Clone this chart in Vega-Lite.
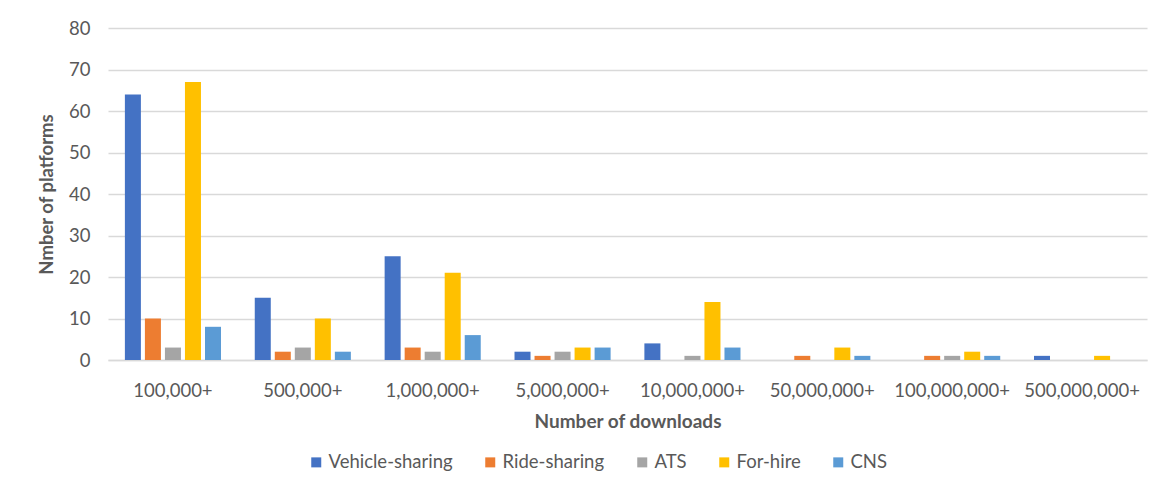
{
  "$schema": "https://vega.github.io/schema/vega-lite/v6.json",
  "width": 1039,
  "height": 332,
  "autosize": "none",
  "padding": {"left": 108, "top": 28, "right": 15, "bottom": 141},
  "background": "white",
  "config": {
    "font": "Lato",
    "view": {"stroke": null}
  },
  "data": {
    "values": [
      {"downloads": "100,000+", "type": "Vehicle-sharing", "count": 64},
      {"downloads": "100,000+", "type": "Ride-sharing", "count": 10},
      {"downloads": "100,000+", "type": "ATS", "count": 3},
      {"downloads": "100,000+", "type": "For-hire", "count": 67},
      {"downloads": "100,000+", "type": "CNS", "count": 8},
      {"downloads": "500,000+", "type": "Vehicle-sharing", "count": 15},
      {"downloads": "500,000+", "type": "Ride-sharing", "count": 2},
      {"downloads": "500,000+", "type": "ATS", "count": 3},
      {"downloads": "500,000+", "type": "For-hire", "count": 10},
      {"downloads": "500,000+", "type": "CNS", "count": 2},
      {"downloads": "1,000,000+", "type": "Vehicle-sharing", "count": 25},
      {"downloads": "1,000,000+", "type": "Ride-sharing", "count": 3},
      {"downloads": "1,000,000+", "type": "ATS", "count": 2},
      {"downloads": "1,000,000+", "type": "For-hire", "count": 21},
      {"downloads": "1,000,000+", "type": "CNS", "count": 6},
      {"downloads": "5,000,000+", "type": "Vehicle-sharing", "count": 2},
      {"downloads": "5,000,000+", "type": "Ride-sharing", "count": 1},
      {"downloads": "5,000,000+", "type": "ATS", "count": 2},
      {"downloads": "5,000,000+", "type": "For-hire", "count": 3},
      {"downloads": "5,000,000+", "type": "CNS", "count": 3},
      {"downloads": "10,000,000+", "type": "Vehicle-sharing", "count": 4},
      {"downloads": "10,000,000+", "type": "Ride-sharing", "count": 0},
      {"downloads": "10,000,000+", "type": "ATS", "count": 1},
      {"downloads": "10,000,000+", "type": "For-hire", "count": 14},
      {"downloads": "10,000,000+", "type": "CNS", "count": 3},
      {"downloads": "50,000,000+", "type": "Vehicle-sharing", "count": 0},
      {"downloads": "50,000,000+", "type": "Ride-sharing", "count": 1},
      {"downloads": "50,000,000+", "type": "ATS", "count": 0},
      {"downloads": "50,000,000+", "type": "For-hire", "count": 3},
      {"downloads": "50,000,000+", "type": "CNS", "count": 1},
      {"downloads": "100,000,000+", "type": "Vehicle-sharing", "count": 0},
      {"downloads": "100,000,000+", "type": "Ride-sharing", "count": 1},
      {"downloads": "100,000,000+", "type": "ATS", "count": 1},
      {"downloads": "100,000,000+", "type": "For-hire", "count": 2},
      {"downloads": "100,000,000+", "type": "CNS", "count": 1},
      {"downloads": "500,000,000+", "type": "Vehicle-sharing", "count": 1},
      {"downloads": "500,000,000+", "type": "Ride-sharing", "count": 0},
      {"downloads": "500,000,000+", "type": "ATS", "count": 0},
      {"downloads": "500,000,000+", "type": "For-hire", "count": 1},
      {"downloads": "500,000,000+", "type": "CNS", "count": 0}
    ]
  },
  "mark": {"type": "bar"},
  "encoding": {
    "x": {
      "field": "downloads",
      "type": "nominal",
      "sort": ["100,000+", "500,000+", "1,000,000+", "5,000,000+", "10,000,000+", "50,000,000+", "100,000,000+", "500,000,000+"],
      "scale": {"paddingInner": 0.26, "paddingOuter": 0.13},
      "axis": {
        "title": "Number of downloads",
        "titleFontSize": 19,
        "titleFontWeight": "bold",
        "titleColor": "#595959",
        "titlePadding": 13,
        "labelAngle": 0,
        "labelFontSize": 18.5,
        "labelColor": "#595959",
        "labelPadding": 21,
        "ticks": false,
        "domainColor": "#d9d9d9",
        "domainWidth": 1.5
      }
    },
    "xOffset": {
      "field": "type",
      "type": "nominal",
      "sort": ["Vehicle-sharing", "Ride-sharing", "ATS", "For-hire", "CNS"],
      "scale": {"paddingInner": 0.2}
    },
    "y": {
      "field": "count",
      "type": "quantitative",
      "scale": {"domain": [0, 80]},
      "axis": {
        "title": "Nmber of platforms",
        "titleFontSize": 18.5,
        "titleFontWeight": "bold",
        "titleColor": "#595959",
        "titlePadding": 12,
        "values": [0, 10, 20, 30, 40, 50, 60, 70, 80],
        "labelFontSize": 18.5,
        "labelColor": "#595959",
        "labelPadding": 18,
        "ticks": false,
        "domain": false,
        "gridColor": "#d9d9d9",
        "gridWidth": 1.5
      }
    },
    "color": {
      "field": "type",
      "type": "nominal",
      "sort": ["Vehicle-sharing", "Ride-sharing", "ATS", "For-hire", "CNS"],
      "scale": {
        "domain": ["Vehicle-sharing", "Ride-sharing", "ATS", "For-hire", "CNS"],
        "range": ["#4472C4", "#ED7D31", "#A5A5A5", "#FFC000", "#5B9BD5"]
      },
      "legend": {
        "title": null,
        "orient": "none",
        "direction": "horizontal",
        "legendX": 199,
        "legendY": 425,
        "symbolType": "square",
        "symbolSize": 100,
        "symbolStrokeWidth": 0,
        "labelFontSize": 18.5,
        "labelColor": "#595959",
        "columnPadding": 28,
        "labelOffset": 3
      }
    }
  }
}
